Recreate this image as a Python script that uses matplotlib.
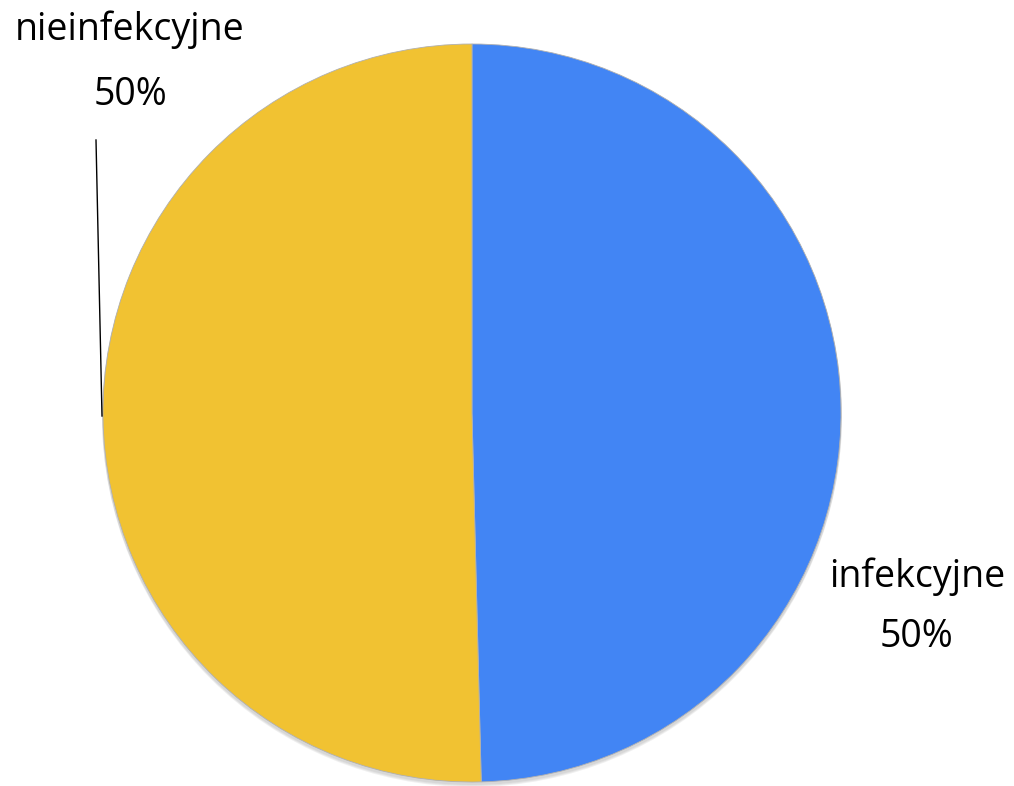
import matplotlib
matplotlib.use("Agg")
import matplotlib.pyplot as plt
from matplotlib.patches import Ellipse

categories = ["infekcyjne", "nieinfekcyjne"]
values = [49.6, 50.4]
colors = ["#4285F4", "#F1C232"]

plt.rcParams["font.family"] = ["Open Sans", "DejaVu Sans"]

W, H = 1014, 786
fig = plt.figure(figsize=(W / 100, H / 100), dpi=100)
ax = fig.add_axes([0, 0, 1, 1])

cx, cy, r = 472, 413, 369

# soft shadow under the pie
for i, a in enumerate([0.05, 0.05, 0.06]):
    ax.add_patch(Ellipse((cx, cy + 2 + i), 2 * r + 2, 2 * r + 2,
                         facecolor="black", alpha=a, edgecolor="none", zorder=1))

# y axis is inverted, so start at -90 (screen top) and go "counterclock"
# in data space, which is clockwise on screen
wedges, _ = ax.pie(values, colors=colors, startangle=-90, counterclock=True,
                   center=(cx, cy), radius=r, frame=True,
                   wedgeprops=dict(linewidth=0.6, edgecolor="#b0b0b0"))
for w in wedges:
    w.set_zorder(2)
ax.set_xlim(0, W)
ax.set_ylim(H, 0)
ax.set_aspect("equal")
ax.axis("off")

total = sum(values)
pct = [f"{round(v / total * 100)}%" for v in values]

ax.text(917, 577, categories[0], ha="center", va="center", fontsize=27)
ax.text(917, 637, pct[0], ha="center", va="center", fontsize=27)
ax.text(130, 30, categories[1], ha="center", va="center", fontsize=27)
ax.text(130, 95, pct[1], ha="center", va="center", fontsize=27)
ax.plot([96, 102], [140, 416], color="black", linewidth=1.0, zorder=3)

fig.savefig("out.png", dpi=100)
